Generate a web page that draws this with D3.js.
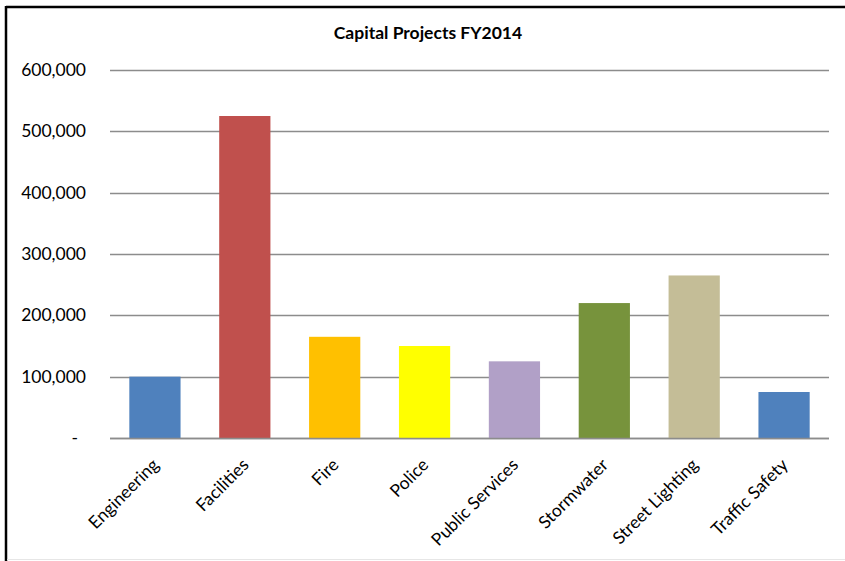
<!DOCTYPE html>
<html>
<head>
<meta charset="utf-8">
<script src="https://cdn.jsdelivr.net/npm/d3@7"></script>
<style>
  html, body { margin: 0; padding: 0; background: #fff; }
  svg { display: block; font-family: Lato, "Open Sans", sans-serif; }
</style>
</head>
<body>
<svg id="chart" width="845" height="561"></svg>
<script>
// Capital project budgets by department, FY2014
const categories = ["Engineering", "Facilities", "Fire", "Police", "Public Services", "Stormwater", "Street Lighting", "Traffic Safety"];
const values = [100000, 525000, 165000, 150000, 125000, 220000, 265000, 75000];
const colors = ["#4f81bd", "#c0504d", "#ffc000", "#ffff00", "#b1a0c7", "#77933c", "#c4bd97", "#4f81bd"];
const yTicks = [0, 100000, 200000, 300000, 400000, 500000, 600000];
const title = "Capital Projects FY2014";

const W = 845, H = 561;
const margin = { left: 110, right: 16, top: 70, bottom: 123 };
const labelSize = 17.5;

const svg = d3.select("#chart");

// outer frame: thick top and left edges, faint bottom
svg.append("rect").attr("x", 0).attr("y", 0).attr("width", W).attr("height", H).attr("fill", "#fff");
svg.append("line").attr("x1", 6).attr("x2", W).attr("y1", 7).attr("y2", 7)
  .attr("stroke", "#000").attr("stroke-width", 2.5);
svg.append("line").attr("x1", 6).attr("x2", 6).attr("y1", 6).attr("y2", H)
  .attr("stroke", "#000").attr("stroke-width", 2.5);
svg.append("line").attr("x1", 7).attr("x2", W).attr("y1", 559.5).attr("y2", 559.5)
  .attr("stroke", "#e6e6e6").attr("stroke-width", 1);

const x = d3.scaleBand()
  .domain(categories)
  .range([margin.left, W - margin.right])
  .paddingInner(0.43)
  .paddingOuter(0.215);

const y = d3.scaleLinear()
  .domain([0, 600000])
  .range([H - margin.bottom, margin.top]);

// horizontal gridlines
svg.append("g")
  .selectAll("line")
  .data(yTicks)
  .join("line")
  .attr("x1", margin.left)
  .attr("x2", W - margin.right)
  .attr("y1", d => Math.round(y(d)) + 0.5)
  .attr("y2", d => Math.round(y(d)) + 0.5)
  .attr("stroke", "#8c8c8c")
  .attr("stroke-width", 1.3);

// y axis labels (accounting style: zero shown as a dash)
const fmt = d3.format(",");
const yAxis = d3.axisLeft(y)
  .tickValues(yTicks)
  .tickSize(0)
  .tickPadding(24)
  .tickFormat(d => d === 0 ? "-" : fmt(d));
const gy = svg.append("g")
  .attr("transform", `translate(${margin.left},0)`)
  .call(yAxis);
gy.select(".domain").remove();
gy.selectAll("text")
  .attr("font-size", labelSize)
  .attr("fill", "#000")
  .attr("font-family", "Lato, sans-serif")
  .attr("dx", d => d === 0 ? -8 : 0);

// bars
svg.append("g")
  .selectAll("rect")
  .data(categories)
  .join("rect")
  .attr("x", d => x(d))
  .attr("width", x.bandwidth())
  .attr("y", (d, i) => y(values[i]))
  .attr("height", (d, i) => y(0) - y(values[i]))
  .attr("fill", (d, i) => colors[i]);

// redraw baseline over bar bottoms
svg.append("line")
  .attr("x1", margin.left).attr("x2", W - margin.right)
  .attr("y1", Math.round(y(0)) + 0.5).attr("y2", Math.round(y(0)) + 0.5)
  .attr("stroke", "#8c8c8c").attr("stroke-width", 1.3);

// category labels rotated 45 degrees
const xAxis = d3.axisBottom(x).tickSize(0).tickPadding(0);
const gx = svg.append("g")
  .attr("transform", `translate(0,${y(0)})`)
  .call(xAxis);
gx.select(".domain").remove();
gx.selectAll("text")
  .attr("font-size", labelSize)
  .attr("fill", "#000")
  .attr("font-family", "Lato, sans-serif")
  .attr("text-anchor", "end")
  .attr("dy", null)
  .attr("y", null)
  .attr("transform", "translate(5,28) rotate(-45)");

// title
svg.append("text")
  .attr("x", 428)
  .attr("y", 39)
  .attr("text-anchor", "middle")
  .attr("font-weight", "bold")
  .attr("font-size", 17.5)
  .attr("fill", "#000")
  .text(title);
</script>
</body>
</html>
